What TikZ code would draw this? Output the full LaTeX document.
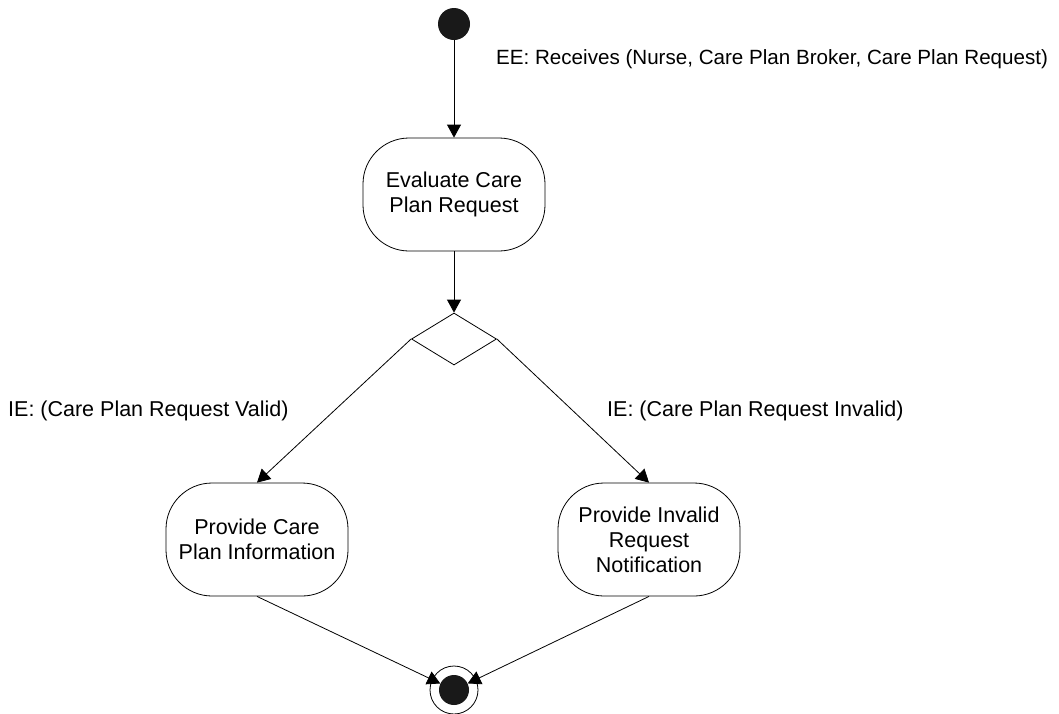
\documentclass[tikz,border=0pt]{standalone}
\usepackage{fontspec}
\setmainfont{Liberation Sans}
\usetikzlibrary{shapes.geometric,arrows.meta}
\tikzset{
  action/.style={draw, line width=0.8pt, rounded corners=46pt, minimum width=182pt, minimum height=113pt, align=center, inner sep=0pt, font=\fontsize{21.5}{25}\selectfont},
  lbl/.style={anchor=west, inner sep=0pt, font=\fontsize{21.5}{25}\selectfont},
  flow/.style={line width=0.8pt, -{Triangle[length=13pt,width=14pt]}},
  plain/.style={line width=0.8pt}
}
\begin{document}
\begin{tikzpicture}[x=1pt,y=1pt]
\useasboundingbox (0,0) rectangle (1059,-713);
\node[circle, fill=black!90, minimum size=32pt, inner sep=0pt] (start) at (454,-24) {};
\node[action] (eval) at (454,-194.5) {Evaluate Care\\Plan Request};
\node[diamond, draw, line width=0.8pt, minimum width=85pt, minimum height=52pt, inner sep=0pt] (dec) at (454,-339) {};
\node[action] (info) at (257,-539.5) {Provide Care\\Plan Information};
\node[action] (inval) at (649,-539.5) {Provide Invalid\\Request\\Notification};
\node[circle, draw, line width=0.8pt, minimum size=48pt, inner sep=0pt] (endring) at (454,-690) {};
\node[circle, fill=black!90, minimum size=30pt, inner sep=0pt] (final) at (454,-690) {};
\draw[flow] (start) -- (eval);
\draw[flow] (eval) -- (dec);
\draw[flow] (dec.west) -- (info.north);
\draw[flow] (dec.east) -- (inval.north);
\draw[flow] (info.south) -- (final);
\draw[flow] (inval.south) -- (final);
\node[lbl, font=\fontsize{20.6}{24}\selectfont] (ee) at (496,-59) {EE: Receives (Nurse, Care Plan Broker, Care Plan Request)};
\node[lbl] (iev) at (8,-411) {IE: (Care Plan Request Valid)};
\node[lbl] (iei) at (607,-411) {IE: (Care Plan Request Invalid)};
\end{tikzpicture}
\end{document}
